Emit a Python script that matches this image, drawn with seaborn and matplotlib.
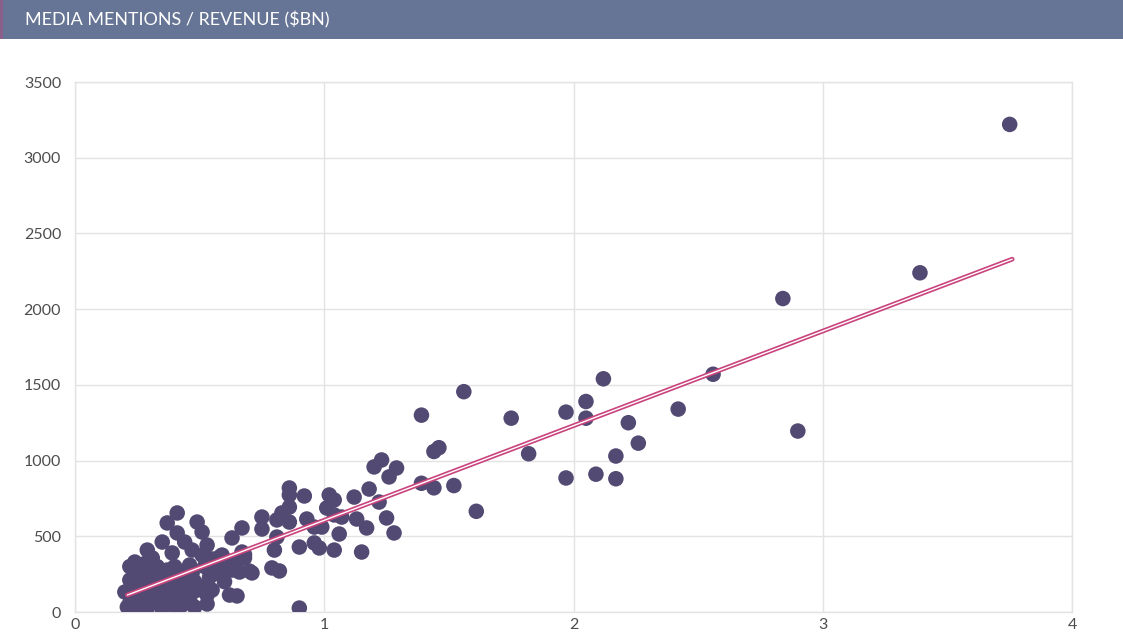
import matplotlib
matplotlib.use("Agg")
import matplotlib.pyplot as plt
import seaborn as sns
import numpy as np
import pandas as pd

# revenue ($bn) and media mentions
revenue = [
    3.75, 3.39, 2.84, 2.90, 2.56, 2.42, 2.26, 2.22, 2.17, 2.17, 2.12, 2.05, 2.05, 2.09,
    1.97, 1.97, 1.82, 1.75, 1.61, 1.56, 1.52, 1.46, 1.44, 1.44, 1.39, 1.39,
    1.23, 1.20, 1.29, 1.26, 0.86, 0.92, 0.86, 1.02, 1.04, 1.18, 1.12, 1.22, 0.86, 1.01,
    0.83, 0.75, 0.81, 0.86, 0.93, 1.04, 1.07, 1.13, 1.25, 0.67, 0.75, 0.96, 0.99, 1.06,
    1.17, 1.28, 0.63, 0.81, 0.80, 0.90, 0.96, 0.98, 1.04, 1.15, 0.67, 0.68, 0.59, 0.63,
    0.66, 0.71, 0.79, 0.82, 0.62, 0.65, 0.90,
    0.41, 0.37, 0.49, 0.51, 0.41, 0.29, 0.35, 0.53, 0.47, 0.44, 0.39, 0.24, 0.31, 0.46,
    0.51, 0.58, 0.22, 0.27, 0.37, 0.42, 0.47, 0.54, 0.59, 0.63, 0.20, 0.26, 0.33, 0.41,
    0.49, 0.53, 0.55, 0.21, 0.29, 0.35, 0.43, 0.48, 0.53, 0.24, 0.30, 0.46,
    0.22, 0.25, 0.28, 0.30, 0.33, 0.35, 0.38, 0.40, 0.43, 0.45, 0.48, 0.50, 0.23, 0.26,
    0.31, 0.34, 0.37, 0.40, 0.44, 0.47, 0.27, 0.32, 0.36, 0.42, 0.39, 0.29, 0.24, 0.35,
    0.41, 0.22, 0.52, 0.55, 0.58, 0.60, 0.57, 0.64, 0.68, 0.70,
]
mentions = [
    3220, 2240, 2070, 1195, 1570, 1340, 1115, 1250, 1030, 880, 1540, 1390, 1280, 910,
    1320, 885, 1045, 1280, 665, 1455, 835, 1085, 1060, 820, 1300, 850,
    1004, 958, 951, 892, 819, 766, 773, 773, 740, 812, 759, 726, 693, 687,
    654, 627, 608, 594, 614, 641, 627, 614, 621, 555, 548, 561, 561, 515,
    555, 522, 489, 495, 409, 429, 456, 423, 409, 396, 396, 357, 376, 310,
    264, 258, 291, 271, 112, 106, 26,
    654, 588, 594, 528, 522, 409, 462, 442, 409, 462, 390, 330, 357, 310,
    376, 363, 211, 244, 277, 231, 258, 231, 277, 277, 132, 145, 145, 125,
    145, 112, 145, 33, 26, 33, 46, 33, 53, 79, 79, 79,
    300, 280, 320, 250, 300, 200, 160, 300, 180, 230, 200, 170, 180, 100,
    120, 60, 100, 70, 110, 130, 200, 180, 240, 260, 220, 50, 20, 15,
    10, 60, 300, 350, 250, 200, 300, 320, 380, 270,
]

# trend line end points as drawn in the picture
trend_x = [0.21, 3.76]
trend_y = [112, 2330]

title = "MEDIA MENTIONS / REVENUE ($BN)"
x_ticks = [0, 1, 2, 3, 4]
y_ticks = [0, 500, 1000, 1500, 2000, 2500, 3000, 3500]

df = pd.DataFrame({"revenue": revenue, "mentions": mentions})
trend = pd.DataFrame({"x": trend_x, "y": trend_y})

sns.set_theme(style="white")
plt.rcParams["font.family"] = ["Lato", "DejaVu Sans"]

fig = plt.figure(figsize=(11.23, 6.42), dpi=100)

# header band
fig.patches.append(plt.Rectangle((0, 1 - 39 / 642), 1, 39 / 642, transform=fig.transFigure,
                                 facecolor="#667595", edgecolor="none", zorder=0))
fig.patches.append(plt.Rectangle((0, 1 - 39 / 642), 3 / 1123, 39 / 642, transform=fig.transFigure,
                                 facecolor="#8a5f8c", edgecolor="none", zorder=1))
fig.text(25 / 1123, 1 - 20 / 642, title, color="white", fontsize=12.9, va="center", ha="left")

ax = fig.add_axes([75 / 1123, 1 - 612 / 642, (1072 - 75) / 1123, (612 - 82) / 642])

sns.scatterplot(data=df, x="revenue", y="mentions", ax=ax, color="#524a72",
                s=125, edgecolor="none", linewidth=0, zorder=3)

# double trend line: pink outline with white core
sns.lineplot(data=trend, x="x", y="y", ax=ax, color="#c9437d", linewidth=3.4,
             solid_capstyle="round", zorder=4)
sns.lineplot(data=trend, x="x", y="y", ax=ax, color="white", linewidth=1.0,
             solid_capstyle="round", zorder=5)

ax.set_xlim(0, 4)
ax.set_ylim(0, 3500)
ax.set_xticks(x_ticks)
ax.set_yticks(y_ticks)
ax.set_xlabel("")
ax.set_ylabel("")
ax.grid(True, color="#e3e3e3", linewidth=1)
ax.set_axisbelow(True)
for sp in ax.spines.values():
    sp.set_color("#e3e3e3")
    sp.set_linewidth(1)
ax.tick_params(axis="both", colors="#4d4d4d", labelsize=11.5, length=0)
ax.tick_params(axis="y", pad=10)
ax.tick_params(axis="x", pad=4)

fig.savefig("out.png", dpi=100)
